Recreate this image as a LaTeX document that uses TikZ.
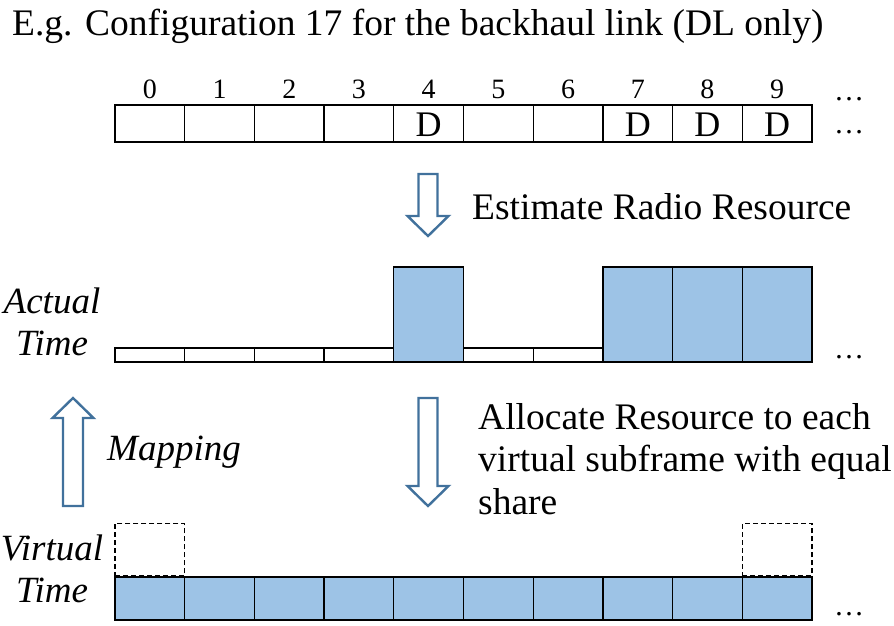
\documentclass[tikz,border=0pt]{standalone}
\usepackage{fontspec}
\setmainfont{Liberation Serif}
\begin{document}
\begin{tikzpicture}[x=1pt,y=-1pt]
    \definecolor{slot_blue}{RGB}{157,195,230}
    \definecolor{arrow_blue}{RGB}{65,113,156}
    \tikzset{
      slot/.style={shape=rectangle,draw,line width=1.3pt,inner sep=0pt,minimum width=69.7pt},
      ghost/.style={shape=rectangle,draw,dash pattern=on 5pt off 3pt,line width=1.3pt,inner sep=0pt,minimum width=69.7pt,minimum height=52pt},
      txt/.style={inner sep=0pt,anchor=base west,font=\fontsize{37.5}{42.5}\selectfont},
      blockarrow/.style={draw=arrow_blue,fill=white,line width=2.4pt,line join=miter}
    }
    \useasboundingbox (0,0) rectangle (894,625);
    \node[txt] (title) at (12,35) {E.g. Configuration 17 for the backhaul link (DL only)};
    % configuration row
    \foreach \i in {0,...,9} {
      \node[slot,minimum height=37pt] (top\i) at ({149.85+69.7*\i},123.5) {};
      \node[inner sep=0pt,anchor=base,font=\fontsize{28}{30}\selectfont] (num\i) at ({149.85+69.7*\i},98) {\i};
    }
    \foreach \i in {4,7,8,9}
      \node[inner sep=0pt,anchor=base,font=\fontsize{36}{40}\selectfont] (dl\i) at ({149.85+69.7*\i},136) {D};
    \node[inner sep=0pt,anchor=base west,font=\fontsize{30}{40}\selectfont] (dotsA) at (834,100) {…};
    \node[inner sep=0pt,anchor=base west,font=\fontsize{30}{40}\selectfont] (dotsB) at (834,133) {…};
    % estimate
    \draw[blockarrow] (418.5,174) -- (437.5,174) -- (437.5,216) -- (448.5,216) -- (428,236) -- (407.5,216) -- (418.5,216) -- cycle;
    \node[txt] (est) at (472,219) {Estimate Radio Resource};
    % actual time
    \node[txt,align=center,anchor=base,font=\fontsize{37}{42}\selectfont\itshape] (actual) at (52,355) {Actual\\Time};
    \foreach \i in {0,1,2,3,5,6}
      \node[slot,minimum height=14pt] (act\i) at ({149.85+69.7*\i},355) {};
    \foreach \i in {4,7,8,9}
      \node[slot,fill=slot_blue,minimum height=95pt] (act\i) at ({149.85+69.7*\i},314.5) {};
    \node[inner sep=0pt,anchor=base west,font=\fontsize{30}{40}\selectfont] (dotsC) at (834,358) {…};
    % mapping and allocation
    \draw[blockarrow] (63,506) -- (83,506) -- (83,418) -- (93.5,418) -- (73,398) -- (52.5,418) -- (63,418) -- cycle;
    \node[txt,font=\fontsize{37}{42}\selectfont\itshape] (map) at (107,460) {Mapping};
    \draw[blockarrow] (418.5,398) -- (437.5,398) -- (437.5,486) -- (448.5,486) -- (428,506) -- (407.5,486) -- (418.5,486) -- cycle;
    \node[txt,align=left] (alloc) at (478,514) {Allocate Resource to each\\virtual subframe with equal\\share};
    % virtual time
    \node[txt,align=center,anchor=base,font=\fontsize{37}{42}\selectfont\itshape] (virtual) at (52,602) {Virtual\\Time};
    \foreach \i in {0,...,9}
      \node[slot,fill=slot_blue,minimum height=43pt] (virt\i) at ({149.85+69.7*\i},598.5) {};
    \node[ghost,anchor=south] (ghostA) at (virt0.north) {};
    \node[ghost,anchor=south] (ghostB) at (virt9.north) {};
    \node[inner sep=0pt,anchor=base west,font=\fontsize{30}{40}\selectfont] (dotsD) at (834,615) {…};
\end{tikzpicture}
\end{document}
